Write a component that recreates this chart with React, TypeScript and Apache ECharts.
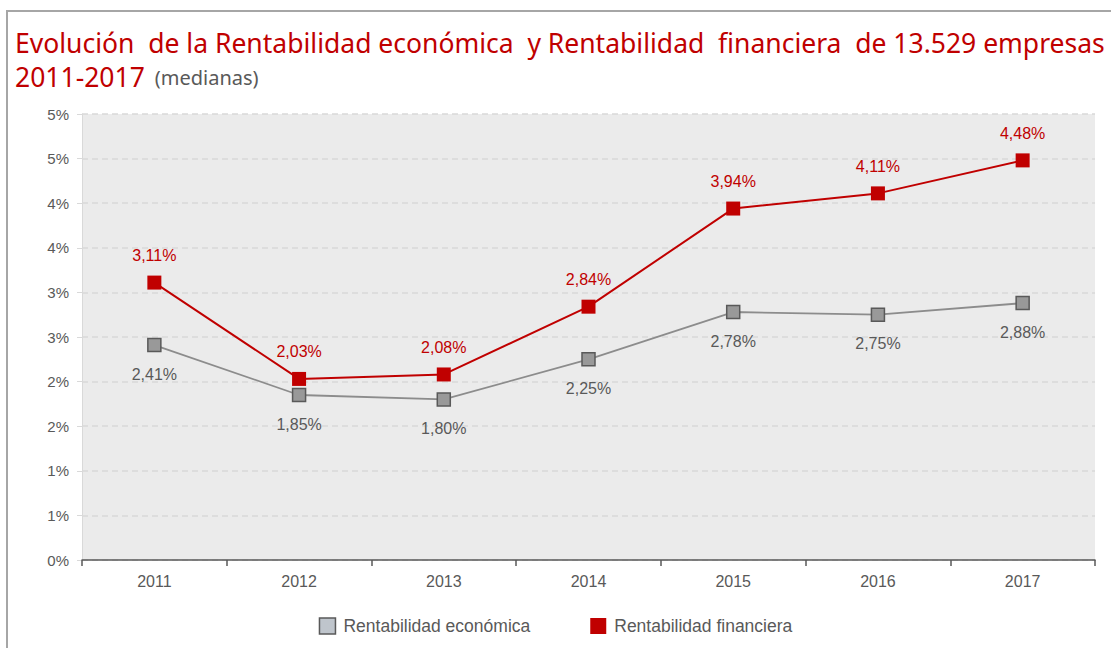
import React, { useEffect, useRef } from "react";
import * as echarts from "echarts";

const categories = ["2011", "2012", "2013", "2014", "2015", "2016", "2017"];
const economica = [2.41, 1.85, 1.8, 2.25, 2.78, 2.75, 2.88];
const financiera = [3.11, 2.03, 2.08, 2.84, 3.94, 4.11, 4.48];
const seriesNames = ["Rentabilidad económica", "Rentabilidad financiera"];
const titleLine1 = "Evolución  de la Rentabilidad económica  y Rentabilidad  financiera  de 13.529 empresas";
const titleLine2 = "2011-2017";
const subtitle = "(medianas)";

const fmt = (v: number) => v.toFixed(2).replace(".", ",") + "%";

export default function App() {
  const ref = useRef<HTMLDivElement>(null);
  useEffect(() => {
    const chart = echarts.init(ref.current!, null, { renderer: "svg" });
    const red = "#c00000";
    const textGray = "#595959";
    chart.setOption({
      animation: false,
      backgroundColor: "#ffffff",
      graphic: [
        {
          type: "rect",
          shape: { x: 7, y: 11, width: 1200, height: 700 },
          style: { fill: "none", stroke: "#a6a6a6", lineWidth: 2 },
          silent: true,
        },
      ],
      title: {
        left: 10,
        top: 21,
        text: `{a|${titleLine1}}\n{b|${titleLine2}}  {c|${subtitle}}`,
        textStyle: {
          fontWeight: "normal",
          rich: {
            a: { fontFamily: "Noto Sans", fontWeight: "normal", fontSize: 26.5, color: red, lineHeight: 34 },
            b: { fontFamily: "Noto Sans", fontWeight: "normal", fontSize: 26.5, color: red, lineHeight: 34 },
            c: { fontFamily: "Noto Sans", fontWeight: "normal", fontSize: 20, color: textGray, lineHeight: 34 },
          },
        },
      },
      legend: {
        bottom: 8,
        left: "center",
        itemGap: 60,
        itemWidth: 16,
        itemHeight: 16,
        icon: "rect",
        textStyle: { fontFamily: "Liberation Sans", fontSize: 17.5, color: textGray, padding: [0, 0, 0, 3] },
        data: [
          {
            name: seriesNames[0],
            itemStyle: { color: "#bfc5cc", borderColor: "#595959", borderWidth: 1.5 },
          },
          { name: seriesNames[1], itemStyle: { color: red, borderWidth: 0 } },
        ],
      },
      grid: {
        left: 82,
        right: 16,
        top: 114,
        bottom: 88,
        show: true,
        backgroundColor: "#ebebeb",
        borderWidth: 0,
      },
      xAxis: {
        type: "category",
        data: categories,
        boundaryGap: true,
        axisLine: { lineStyle: { color: "#595959", width: 1.5 } },
        axisTick: { show: true, length: 6, lineStyle: { color: "#595959", width: 1.5 } },
        axisLabel: { fontFamily: "Liberation Sans", fontSize: 16, color: textGray, margin: 13 },
      },
      yAxis: {
        type: "value",
        min: 0,
        max: 5,
        interval: 0.5,
        axisLine: { show: true, lineStyle: { color: "#d9d9d9" } },
        axisTick: { show: true, length: 5, lineStyle: { color: "#d9d9d9" } },
        splitLine: { show: true, lineStyle: { color: "#d9d9d9", type: [6, 4], width: 1.5 } },
        axisLabel: {
          fontFamily: "Liberation Sans",
          fontSize: 15,
          color: textGray,
          margin: 13,
          formatter: (v: number) => Math.round(v) + "%",
        },
      },
      series: [
        {
          name: seriesNames[0],
          type: "line",
          data: economica,
          symbol: "rect",
          symbolSize: 13,
          lineStyle: { color: "#8c8c8c", width: 1.8 },
          itemStyle: { color: "#999999", borderColor: "#595959", borderWidth: 1.5 },
          label: {
            show: true,
            position: "bottom",
            distance: 14,
            formatter: (p: any) => fmt(p.value),
            fontFamily: "Liberation Sans",
            fontSize: 16,
            color: textGray,
          },
          z: 2,
        },
        {
          name: seriesNames[1],
          type: "line",
          data: financiera,
          symbol: "rect",
          symbolSize: 14,
          lineStyle: { color: red, width: 2 },
          itemStyle: { color: red, borderWidth: 0 },
          label: {
            show: true,
            position: "top",
            distance: 12,
            formatter: (p: any) => fmt(p.value),
            fontFamily: "Liberation Sans",
            fontSize: 16,
            color: red,
          },
          z: 3,
        },
      ],
    });
    return () => chart.dispose();
  }, []);
  return (
    <div
      ref={ref}
      style={{ position: "absolute", left: 0, top: 0, width: 1111, height: 648 }}
    />
  );
}
